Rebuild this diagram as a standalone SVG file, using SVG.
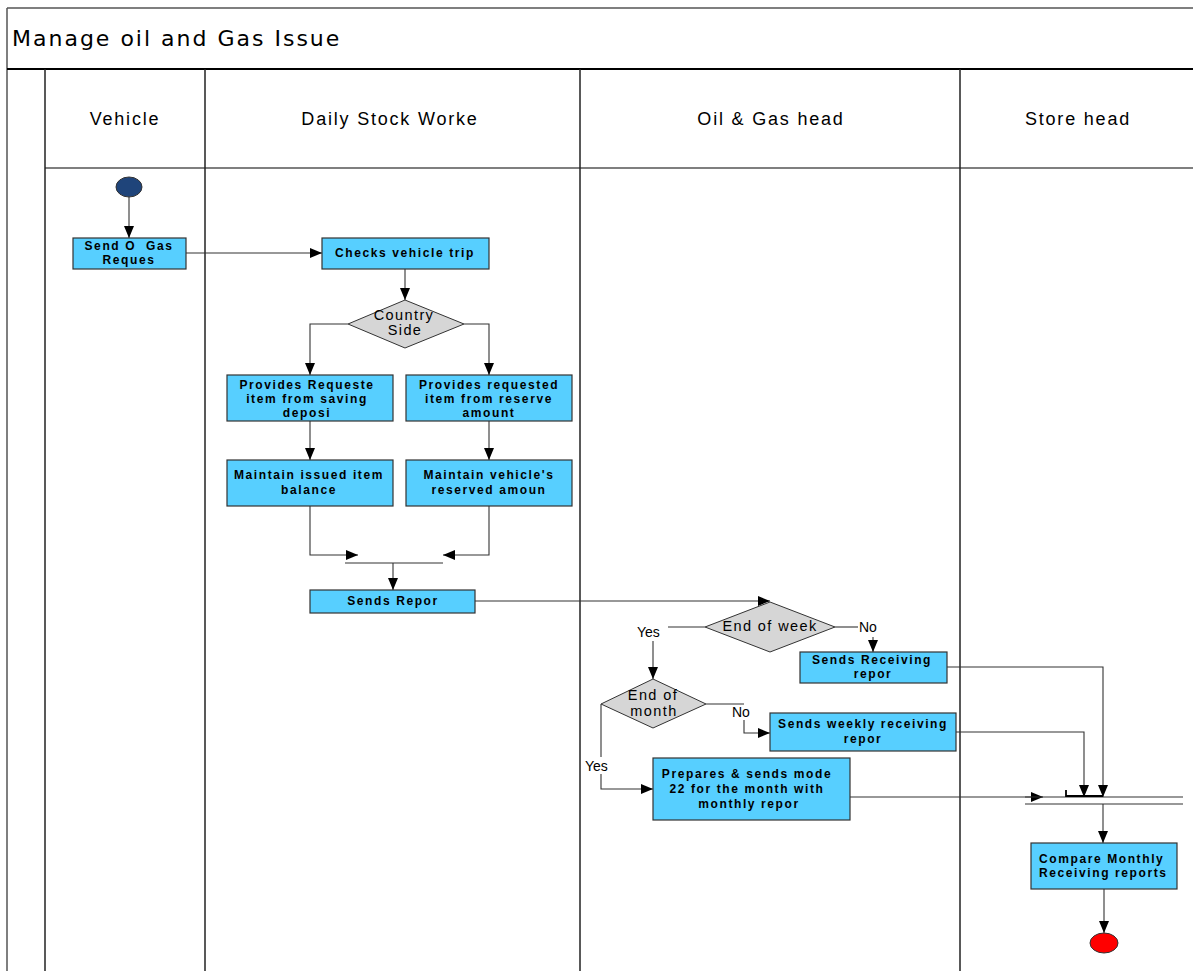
<svg xmlns="http://www.w3.org/2000/svg" width="1193" height="971" viewBox="0 0 1193 971">
  <style>
    .frame { stroke: #555; stroke-width: 1.5; fill: none; }
    .lane { stroke: #222; stroke-width: 1.5; fill: none; }
    .act { fill: #57CFFF; stroke: #333; stroke-width: 1.2; }
    .dec { fill: #D6D6D6; stroke: #333; stroke-width: 1; }
    .edge { stroke: #333; stroke-width: 1.1; fill: none; }
    .t { font-family: "Liberation Sans", Arial, sans-serif; font-size: 12px; font-weight: bold; letter-spacing: 1.6px; fill: #000; text-anchor: middle; }
    .d { font-family: "Liberation Sans", Arial, sans-serif; font-size: 14.5px; letter-spacing: 1.4px; fill: #000; text-anchor: middle; }
    .lbl { font-family: "Liberation Sans", Arial, sans-serif; font-size: 14px; fill: #000; }
    .hdr { font-family: "Liberation Sans", Arial, sans-serif; font-size: 18px; letter-spacing: 1.8px; fill: #000; text-anchor: middle; }
    .title { font-family: "DejaVu Sans", Verdana, sans-serif; font-size: 22px; letter-spacing: 2px; fill: #000; }
  </style>
  <defs>
    <marker id="arr" viewBox="0 0 12 10" refX="12" refY="5" markerWidth="12" markerHeight="10" markerUnits="userSpaceOnUse" orient="auto">
      <path d="M0,0 L12,5 L0,10 Z" fill="#000"/>
    </marker>
  </defs>

  <rect width="1193" height="971" fill="#fff"/>

  <!-- pool frame and swimlanes -->
  <g id="pool">
    <line class="frame" x1="7" y1="8" x2="1193" y2="8"/>
    <line class="frame" x1="7" y1="8" x2="7" y2="971"/>
    <line x1="7" y1="69" x2="1193" y2="69" stroke="#000" stroke-width="2"/>
    <text class="title" x="12" y="46">Manage oil and Gas Issue</text>
    <line class="frame" x1="45" y1="168" x2="1193" y2="168"/>
    <line class="lane" x1="45" y1="69" x2="45" y2="971"/>
    <line class="lane" x1="205" y1="69" x2="205" y2="971"/>
    <line class="lane" x1="580" y1="69" x2="580" y2="971"/>
    <line class="lane" x1="960" y1="69" x2="960" y2="971"/>
    <text class="hdr" x="125" y="125">Vehicle</text>
    <text class="hdr" x="390" y="125">Daily Stock Worke</text>
    <text class="hdr" x="771" y="125">Oil &amp; Gas head</text>
    <text class="hdr" x="1078" y="125">Store head</text>
  </g>

  <!-- connectors -->
  <g id="connectors">
    <line class="edge" x1="129" y1="197" x2="129" y2="238" marker-end="url(#arr)"/>
    <line class="edge" x1="186" y1="253" x2="322" y2="253" marker-end="url(#arr)"/>
    <line class="edge" x1="405" y1="269" x2="405" y2="300" marker-end="url(#arr)"/>
    <polyline class="edge" points="348,324 310,324 310,375" marker-end="url(#arr)"/>
    <polyline class="edge" points="464,324 489,324 489,375" marker-end="url(#arr)"/>
    <line class="edge" x1="310" y1="421" x2="310" y2="460" marker-end="url(#arr)"/>
    <line class="edge" x1="489" y1="421" x2="489" y2="460" marker-end="url(#arr)"/>
    <polyline class="edge" points="310,506 310,555 358,555" marker-end="url(#arr)"/>
    <polyline class="edge" points="489,506 489,555 443,555" marker-end="url(#arr)"/>
    <line class="edge" x1="345" y1="563" x2="443" y2="563"/>
    <line class="edge" x1="393" y1="563" x2="393" y2="590" marker-end="url(#arr)"/>
    <line class="edge" x1="475" y1="601" x2="770" y2="601" marker-end="url(#arr)"/>
    <!-- end of week branches -->
    <line class="edge" x1="705" y1="627" x2="668" y2="627"/>
    <line class="edge" x1="653" y1="641" x2="653" y2="679" marker-end="url(#arr)"/>
    <line class="edge" x1="835" y1="627" x2="858" y2="627"/>
    <line class="edge" x1="873" y1="637" x2="873" y2="652" marker-end="url(#arr)"/>
    <!-- end of month branches -->
    <line class="edge" x1="706" y1="704" x2="744" y2="704"/>
    <polyline class="edge" points="744,720 744,733 770,733" marker-end="url(#arr)"/>
    <line class="edge" x1="601" y1="704" x2="601" y2="757"/>
    <polyline class="edge" points="601,774 601,789 653,789" marker-end="url(#arr)"/>
    <!-- reports into join -->
    <polyline class="edge" points="947,667 1103,667 1103,797" marker-end="url(#arr)"/>
    <polyline class="edge" points="956,732 1084,732 1084,797" marker-end="url(#arr)"/>
    <line class="edge" x1="850" y1="797" x2="1043" y2="797" marker-end="url(#arr)"/>
    <line class="edge" x1="1025" y1="797" x2="1183" y2="797"/>
    <line class="edge" x1="1025" y1="804" x2="1183" y2="804"/>
    <polyline points="1066,790 1066,796 1103,796" fill="none" stroke="#000" stroke-width="1.8"/>
    <line class="edge" x1="1103" y1="804" x2="1103" y2="843" marker-end="url(#arr)"/>
    <line class="edge" x1="1104" y1="889" x2="1104" y2="933" marker-end="url(#arr)"/>
  </g>

  <!-- branch labels -->
  <g id="labels">
    <text class="lbl" x="637" y="637">Yes</text>
    <text class="lbl" x="859" y="632">No</text>
    <text class="lbl" x="732" y="717">No</text>
    <text class="lbl" x="585" y="771">Yes</text>
  </g>

  <g id="start">
    <ellipse cx="129" cy="187" rx="13" ry="10" fill="#1F447A" stroke="#333" stroke-width="1"/>
  </g>

  <g id="send-request">
    <rect class="act" x="73" y="238" width="113" height="31"/>
    <text class="t" x="129" y="250" xml:space="preserve">Send O  Gas</text>
    <text class="t" x="129" y="264">Reques</text>
  </g>

  <g id="check-trip">
    <rect class="act" x="322" y="238" width="167" height="31"/>
    <text class="t" x="405" y="257">Checks vehicle trip</text>
  </g>

  <g id="country-side">
    <polygon class="dec" points="405,300 464,324 405,348 348,324"/>
    <text class="d" x="404" y="320">Country</text>
    <text class="d" x="405" y="335">Side</text>
  </g>

  <g id="provide-saving">
    <rect class="act" x="227" y="375" width="166" height="46"/>
    <text class="t" x="307" y="389">Provides Requeste</text>
    <text class="t" x="307" y="403">item from saving</text>
    <text class="t" x="307" y="417">deposi</text>
  </g>

  <g id="provide-reserved">
    <rect class="act" x="406" y="375" width="166" height="46"/>
    <text class="t" x="489" y="389">Provides requested</text>
    <text class="t" x="489" y="403">item from reserve</text>
    <text class="t" x="489" y="417">amount</text>
  </g>

  <g id="maintain-issued">
    <rect class="act" x="227" y="460" width="166" height="46"/>
    <text class="t" x="309" y="479">Maintain issued item</text>
    <text class="t" x="309" y="494">balance</text>
  </g>

  <g id="maintain-reserved">
    <rect class="act" x="406" y="460" width="166" height="46"/>
    <text class="t" x="489" y="479">Maintain vehicle's</text>
    <text class="t" x="489" y="494">reserved amoun</text>
  </g>

  <g id="send-report">
    <rect class="act" x="310" y="590" width="165" height="23"/>
    <text class="t" x="393" y="605">Sends Repor</text>
  </g>

  <g id="end-of-week">
    <polygon class="dec" points="770,602 835,627 770,652 705,627"/>
    <text class="d" x="770" y="631">End of week</text>
  </g>

  <g id="receiving-report">
    <rect class="act" x="800" y="652" width="147" height="31"/>
    <text class="t" x="872" y="664">Sends Receiving</text>
    <text class="t" x="873" y="678">repor</text>
  </g>

  <g id="end-of-month">
    <polygon class="dec" points="653,679 706,704 653,728 601,704"/>
    <text class="d" x="653" y="700">End of</text>
    <text class="d" x="654" y="716">month</text>
  </g>

  <g id="weekly-report">
    <rect class="act" x="770" y="713" width="186" height="38"/>
    <text class="t" x="863" y="728">Sends weekly receiving</text>
    <text class="t" x="863" y="743">repor</text>
  </g>

  <g id="monthly-report">
    <rect class="act" x="653" y="758" width="197" height="62"/>
    <text class="t" x="747" y="778">Prepares &amp; sends mode</text>
    <text class="t" x="747" y="793">22 for the month with</text>
    <text class="t" x="749" y="808">monthly repor</text>
  </g>

  <g id="compare-reports">
    <rect class="act" x="1031" y="843" width="146" height="46"/>
    <text class="t" x="1039" y="863" style="text-anchor:start">Compare Monthly</text>
    <text class="t" x="1039" y="877" style="text-anchor:start">Receiving reports</text>
  </g>

  <g id="end">
    <ellipse cx="1104" cy="943" rx="14" ry="10" fill="#FF0000" stroke="#333" stroke-width="1"/>
  </g>
</svg>
